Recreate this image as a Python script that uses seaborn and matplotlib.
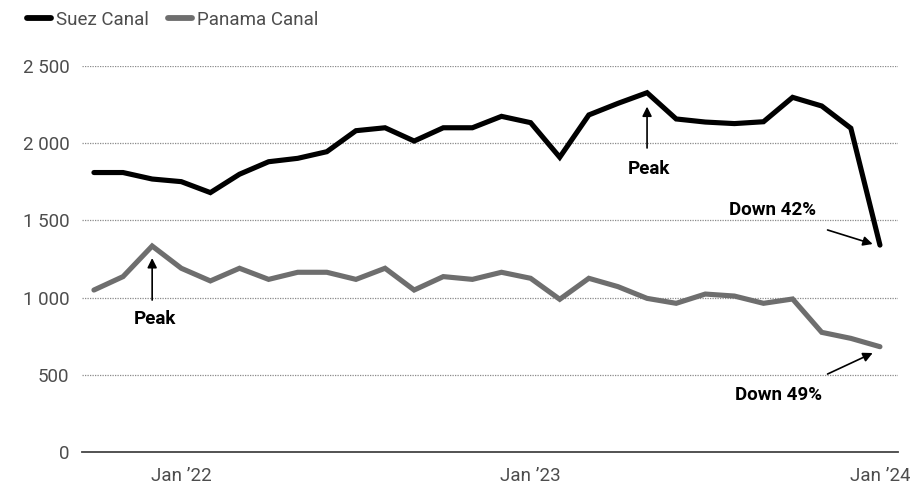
import numpy as np
import pandas as pd
import seaborn as sns
import matplotlib.pyplot as plt
from matplotlib.lines import Line2D

# Monthly transits, Oct 2021 through Jan 2024
months = pd.date_range("2021-10-01", "2024-01-01", freq="MS")
suez = [1810, 1810, 1768, 1751, 1680, 1799, 1880, 1902, 1945, 2081, 2100, 2014,
        2100, 2100, 2174, 2133, 1909, 2183, 2258, 2327, 2157, 2137, 2127, 2139,
        2297, 2241, 2097, 1340]
panama = [1049, 1136, 1334, 1190, 1108, 1190, 1118, 1164, 1164, 1118, 1190, 1049,
          1136, 1118, 1164, 1125, 989, 1125, 1071, 995, 963, 1023, 1010, 963,
          991, 775, 736, 682]
series_names = ["Suez Canal", "Panama Canal"]
y_ticks = [0, 500, 1000, 1500, 2000, 2500]
x_tick_labels = ["Jan \u201922", "Jan \u201923", "Jan \u201924"]

idx = np.arange(len(months))
df = pd.DataFrame({
    "t": np.concatenate([idx, idx]),
    "value": suez + panama,
    "canal": [series_names[0]] * len(idx) + [series_names[1]] * len(idx),
})

sns.set_theme(style="white")
plt.rcParams["font.family"] = ["Roboto", "DejaVu Sans"]

TEXT_GREY = "#4d4d4d"
palette = {series_names[0]: "#000000", series_names[1]: "#6e6e6e"}

fig = plt.figure(figsize=(9.10, 4.84), dpi=100)
ax = fig.add_axes([82 / 910, 1 - 452 / 484, (898 - 82) / 910, (452 - 66) / 484])

sns.lineplot(data=df, x="t", y="value", hue="canal", palette=palette,
             linewidth=3.7, ax=ax, legend=False, solid_joinstyle="miter")

ax.set_xlim(-0.41, 27.62)
ax.set_ylim(0, 2500)
ax.set_yticks(y_ticks)
ax.set_yticklabels([f"{v:,}".replace(",", " ") for v in y_ticks])
jan_pos = [i for i, m in enumerate(months) if m.month == 1]
ax.set_xticks(jan_pos)
ax.set_xticklabels(x_tick_labels)
ax.set_xlabel("")
ax.set_ylabel("")
ax.tick_params(axis="both", length=0, labelsize=13.5, colors=TEXT_GREY)
ax.tick_params(axis="x", pad=11)
ax.tick_params(axis="y", pad=9)

for s in ["top", "right", "left"]:
    ax.spines[s].set_visible(False)
ax.spines["bottom"].set_color("#444444")
ax.spines["bottom"].set_linewidth(1.3)

for v in y_ticks[1:]:
    ax.axhline(v, color="#8a8a8a", lw=0.9, ls=(0, (1, 1)), zorder=0)

# Legend
handles = [Line2D([0], [0], color=palette[n], lw=4.2, solid_capstyle="round")
           for n in series_names]
fig.legend(handles, series_names, loc="center left", bbox_to_anchor=(10 / 910, 1 - 20 / 484),
           ncol=2, frameon=False, handlelength=1.3, handletextpad=0.25,
           columnspacing=1.0, prop={"size": 13.5}, labelcolor=TEXT_GREY)

arrow = dict(arrowstyle="-|>", color="black", lw=1.2, mutation_scale=14,
             shrinkA=0, shrinkB=0)
label_kw = dict(fontsize=13.5, fontweight="bold", color="black",
                ha="center", va="center")

# Peaks
ip = int(np.argmax(panama))
ax.annotate("", xy=(ip, panama[ip] - 78), xytext=(ip, panama[ip] - 350), arrowprops=arrow)
ax.text(ip + 0.1, panama[ip] - 472, "Peak", **label_kw)

isz = int(np.argmax(suez))
ax.annotate("", xy=(isz, suez[isz] - 90), xytext=(isz, suez[isz] - 358), arrowprops=arrow)
ax.text(isz + 0.05, suez[isz] - 494, "Peak", **label_kw)

# Latest-month declines
last = len(idx) - 1
suez_drop = round((1 - suez[last] / max(suez)) * 100)
pan_drop = round((1 - panama[last] / max(panama)) * 100)
ax.annotate("", xy=(last - 0.25, suez[last] + 7), xytext=(last - 1.8, suez[last] + 98),
            arrowprops=arrow)
ax.text(last - 3.7, suez[last] + 228, f"Down {suez_drop}%", **label_kw)

ax.annotate("", xy=(last - 0.25, panama[last] - 41), xytext=(last - 1.8, panama[last] - 177),
            arrowprops=arrow)
ax.text(last - 3.5, panama[last] - 310, f"Down {pan_drop}%", **label_kw)

fig.savefig("out.png", dpi=100, facecolor="white")
